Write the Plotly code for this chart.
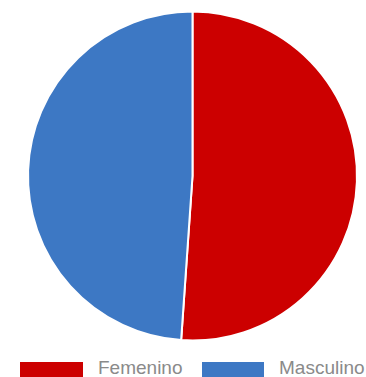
import plotly.graph_objects as go

labels = ["Femenino", "Masculino"]
values = [51.1, 48.9]
colors = ["#cc0000", "#3d78c4"]

W, H = 366, 377

fig = go.Figure(go.Pie(
    labels=labels,
    values=values,
    marker=dict(colors=colors, line=dict(color="white", width=2)),
    sort=False,
    direction="clockwise",
    rotation=0,
    textinfo="none",
    hoverinfo="label+percent",
    domain=dict(x=[28 / W, 357 / W], y=[(H - 341) / H, (H - 11) / H]),
    showlegend=False,
))

# custom legend (wide colour swatches like the reference)
legend_x = [(20, 83, 96), (202, 264, 277)]
shapes = []
annotations = []
for (x0, x1, tx), lab, col in zip(legend_x, labels, colors):
    shapes.append(dict(type="rect", xref="paper", yref="paper",
                       x0=x0 / W, x1=x1 / W, y0=(H - 379) / H, y1=(H - 362) / H,
                       fillcolor=col, line=dict(width=0)))
    annotations.append(dict(text=lab, xref="paper", yref="paper",
                            x=tx / W, y=(H - 367) / H, xanchor="left", yanchor="middle",
                            showarrow=False,
                            font=dict(family="Liberation Sans, Arial", size=19, color="#8a8a8a")))

fig.update_layout(
    width=W, height=H,
    margin=dict(l=0, r=0, t=0, b=0),
    paper_bgcolor="white",
    plot_bgcolor="white",
    shapes=shapes,
    annotations=annotations,
)

fig.write_html("out.html")
